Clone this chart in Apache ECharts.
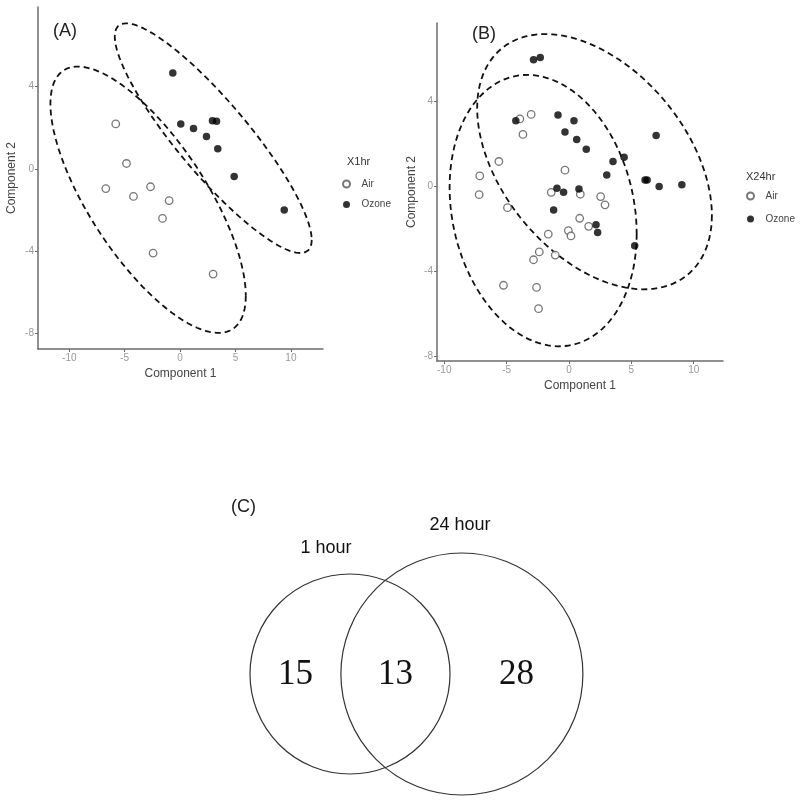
<!DOCTYPE html>
<html>
<head>
<meta charset="utf-8">
<script src="https://cdn.jsdelivr.net/npm/echarts@6/dist/echarts.min.js"></script>
<style>html,body{margin:0;padding:0;background:#fff}#c{width:800px;height:804px}</style>
</head>
<body>
<div id="c"></div>
<script>
// ---------- Data ----------
// Panel A (X1hr)
const airA_x = [-5.81, -4.84, -6.71, -4.21, -2.67, -0.99, -1.59, -2.44, 2.98];
const airA_y = [2.18, 0.26, -0.96, -1.34, -0.87, -1.54, -2.41, -4.09, -5.11];
const ozoneA_x = [-0.66, 0.06, 1.21, 2.38, 2.92, 3.29, 3.40, 4.88, 9.40];
const ozoneA_y = [4.66, 2.18, 1.96, 1.57, 2.34, 2.31, 0.97, -0.37, -2.00];
// Panel B (X24hr)
const airB_x = [-3.94, -3.03, -3.69, -5.62, -7.15, -7.20, -4.93, -0.32, -1.42, 0.91, 2.54, 2.89, 0.86, 1.58, -1.66, -0.05, 0.16, -2.38, -2.84, -1.10, -5.25, -2.60, -2.44];
const airB_y = [3.18, 3.39, 2.45, 1.18, 0.50, -0.38, -0.99, 0.77, -0.27, -0.36, -0.47, -0.86, -1.49, -1.87, -2.24, -2.07, -2.32, -3.07, -3.44, -3.22, -4.64, -4.74, -5.74];
const ozoneB_x = [-2.84, -2.30, -4.26, -0.88, 0.40, -0.32, 0.62, 1.39, 4.42, 3.53, 3.03, 6.99, 6.10, 6.27, 7.23, 9.05, -0.96, -0.43, 0.80, -1.23, 2.17, 2.30, 5.27];
const ozoneB_y = [5.96, 6.07, 3.09, 3.37, 3.09, 2.56, 2.21, 1.76, 1.38, 1.18, 0.55, 2.40, 0.31, 0.31, 0.00, 0.08, -0.08, -0.27, -0.11, -1.10, -1.79, -2.16, -2.78];
// 95% ellipses: [centerX, centerY, halfRangeX, halfRangeY, cos(phase)]
const ellAirA = [-2.89, -1.50, 8.82, 6.47, -0.72];
const ellOzoneA = [2.99, 1.49, 8.89, 5.58, -0.885];
const ellAirB = [-2.07, -1.13, 7.50, 6.38, -0.17];
const ellOzoneB = [2.05, 1.17, 9.41, 6.00, -0.42];
// ticks
const xTicks = [-10, -5, 0, 5, 10];
const yTicks = [-8, -4, 0, 4];
const groups = ['Air', 'Ozone'];
const legendTitles = ['X1hr', 'X24hr'];
const panelLabels = ['(A)', '(B)', '(C)'];
// Venn (C)
const vennSets = ['1 hour', '24 hour'];
const vennOnlyA = 15, vennBoth = 13, vennOnlyB = 28;

// ---------- helpers ----------
function zip(xs, ys) { return xs.map((x, i) => [x, ys[i]]); }
function ellipse(p) {
  const [cx, cy, ax, ay, c] = p, d = Math.acos(c), out = [];
  for (let i = 0; i <= 120; i++) {
    const t = i / 120 * Math.PI * 2;
    out.push([cx + ax * Math.cos(t), cy + ay * Math.cos(t + d)]);
  }
  return out;
}
function lens(r1, r2, d) {
  if (d >= r1 + r2) return 0;
  if (d <= Math.abs(r1 - r2)) return Math.PI * Math.min(r1, r2) ** 2;
  const a1 = Math.acos((d * d + r1 * r1 - r2 * r2) / (2 * d * r1));
  const a2 = Math.acos((d * d + r2 * r2 - r1 * r1) / (2 * d * r2));
  const k = Math.sqrt((-d + r1 + r2) * (d + r1 - r2) * (d - r1 + r2) * (d + r1 + r2));
  return r1 * r1 * a1 + r2 * r2 * a2 - 0.5 * k;
}

const axisCommon = {
  axisLine: { show: true, onZero: false, lineStyle: { color: '#6b6b6b', width: 1.5 } },
  axisTick: { show: true, length: 3, lineStyle: { color: '#6b6b6b' } },
  axisLabel: { color: '#999', fontSize: 10, fontFamily: 'Liberation Sans', margin: 4 },
  splitLine: { show: false },
  nameLocation: 'middle',
  nameTextStyle: { color: '#444', fontSize: 12, fontFamily: 'Liberation Sans' }
};
function xAx(grid, min, max, gap) {
  return Object.assign({}, axisCommon, {
    type: 'value', gridIndex: grid, min, max, name: 'Component 1', nameGap: gap,
    axisTick: Object.assign({}, axisCommon.axisTick, { customValues: xTicks }),
    axisLabel: Object.assign({}, axisCommon.axisLabel, { customValues: xTicks })
  });
}
function yAx(grid, min, max, gap) {
  return Object.assign({}, axisCommon, {
    type: 'value', gridIndex: grid, min, max, name: 'Component 2', nameGap: gap,
    axisTick: Object.assign({}, axisCommon.axisTick, { customValues: yTicks }),
    axisLabel: Object.assign({}, axisCommon.axisLabel, { customValues: yTicks })
  });
}
const airStyle = { color: '#fff', borderColor: '#555', borderWidth: 1.3 };
const ozoneStyle = { color: '#000', borderColor: '#000', borderWidth: 0 };
function scatter(name, data, gi, style) {
  return { type: 'scatter', name, data, xAxisIndex: gi, yAxisIndex: gi, symbol: 'circle', symbolSize: 7.5, itemStyle: style, z: 3, silent: true };
}
function ell(name, p, gi) {
  return { type: 'line', name, data: ellipse(p), xAxisIndex: gi, yAxisIndex: gi, showSymbol: false, smooth: false,
    lineStyle: { color: '#111', width: 1.8, type: [6, 4] }, z: 2, silent: true, animation: false };
}

const chart = echarts.init(document.getElementById('c'), null, { renderer: 'canvas' });
const option = {
  animation: false,
  backgroundColor: '#fff',
  title: [
    { text: panelLabels[0], left: 48, top: 17, textStyle: { fontSize: 18, fontWeight: 'normal', color: '#222', fontFamily: 'Liberation Sans' } },
    { text: panelLabels[1], left: 467, top: 20, textStyle: { fontSize: 18, fontWeight: 'normal', color: '#222', fontFamily: 'Liberation Sans' } },
    { text: panelLabels[2], left: 226, top: 493, textStyle: { fontSize: 18, fontWeight: 'normal', color: '#222', fontFamily: 'Liberation Sans' } },
    { text: legendTitles[0], left: 342, top: 151, textStyle: { fontSize: 11, fontWeight: 'normal', color: '#333', fontFamily: 'Liberation Sans' } },
    { text: legendTitles[1], left: 741, top: 166, textStyle: { fontSize: 11, fontWeight: 'normal', color: '#333', fontFamily: 'Liberation Sans' } }
  ],
  legend: [
    { data: groups, orient: 'vertical', left: 337, top: 174, itemWidth: 20, itemHeight: 7, itemGap: 10.5,
      textStyle: { fontSize: 10, color: '#444', fontFamily: 'Liberation Sans' }, selectedMode: false },
    { data: groups, orient: 'vertical', left: 741, top: 186, itemWidth: 20, itemHeight: 7, itemGap: 13,
      textStyle: { fontSize: 10, color: '#444', fontFamily: 'Liberation Sans' }, selectedMode: false }
  ],
  grid: [
    { left: 38, top: 7, width: 285, height: 342 },
    { left: 437, top: 23, width: 286, height: 338 },
    { left: 0, top: 0, width: 800, height: 804 }
  ],
  xAxis: [
    xAx(0, -12.83, 12.9, 19),
    xAx(1, -10.58, 12.35, 19),
    { type: 'value', gridIndex: 2, min: 0, max: 800, show: false }
  ],
  yAxis: [
    yAx(0, -8.75, 7.86, 20),
    yAx(1, -8.2, 7.69, 19),
    { type: 'value', gridIndex: 2, min: 0, max: 804, inverse: true, show: false }
  ],
  series: [
    ell('ellAirA', ellAirA, 0),
    ell('ellOzoneA', ellOzoneA, 0),
    scatter('Air', zip(airA_x, airA_y), 0, airStyle),
    scatter('Ozone', zip(ozoneA_x, ozoneA_y), 0, ozoneStyle),
    ell('ellAirB', ellAirB, 1),
    ell('ellOzoneB', ellOzoneB, 1),
    scatter('Air', zip(airB_x, airB_y), 1, airStyle),
    scatter('Ozone', zip(ozoneB_x, ozoneB_y), 1, ozoneStyle),
    {
      type: 'custom', name: 'venn', xAxisIndex: 2, yAxisIndex: 2, data: [[350, 674]], silent: true, clip: false,
      renderItem: function (params, api) {
        const totA = vennOnlyA + vennBoth, totB = vennOnlyB + vennBoth;
        const k = 100 / Math.sqrt(totA); // px per sqrt(count)
        const r1 = k * Math.sqrt(totA), r2 = k * Math.sqrt(totB);
        const target = Math.PI * k * k * vennBoth;
        let lo = Math.abs(r1 - r2), hi = r1 + r2;
        for (let i = 0; i < 60; i++) { const m = (lo + hi) / 2; if (lens(r1, r2, m) > target) lo = m; else hi = m; }
        const d = (lo + hi) / 2;
        const c1 = api.coord([api.value(0), api.value(1)]);
        const c2 = api.coord([api.value(0) + d, api.value(1)]);
        const rr1 = api.size([r1, 0])[0], rr2 = api.size([r2, 0])[0];
        const l1 = c1[0] - rr1, r1e = c1[0] + rr1, l2 = c2[0] - rr2, r2e = c2[0] + rr2;
        const numFont = '35px "Liberation Serif"';
        const lblFont = '18px "Liberation Sans"';
        const circ = (c, r) => ({ type: 'circle', shape: { cx: c[0], cy: c[1], r }, style: { fill: null, stroke: '#333', lineWidth: 1.2 } });
        const txt = (t, x, y, font) => ({ type: 'text', style: { text: t, x, y, font, fill: '#111', align: 'center', verticalAlign: 'middle' } });
        return {
          type: 'group', children: [
            circ(c1, rr1), circ(c2, rr2),
            txt(String(vennOnlyA), (l1 + l2) / 2, c1[1] + 1, numFont),
            txt(String(vennBoth), (l2 + r1e) / 2, c1[1] + 1, numFont),
            txt(String(vennOnlyB), (r1e + r2e) / 2, c1[1] + 1, numFont),
            txt(vennSets[0], c1[0] - 24, c1[1] - rr1 - 26, lblFont),
            txt(vennSets[1], c2[0] - 2, c2[1] - rr2 - 28, lblFont)
          ]
        };
      }
    }
  ]
};
chart.setOption(option);
</script>
</body>
</html>
